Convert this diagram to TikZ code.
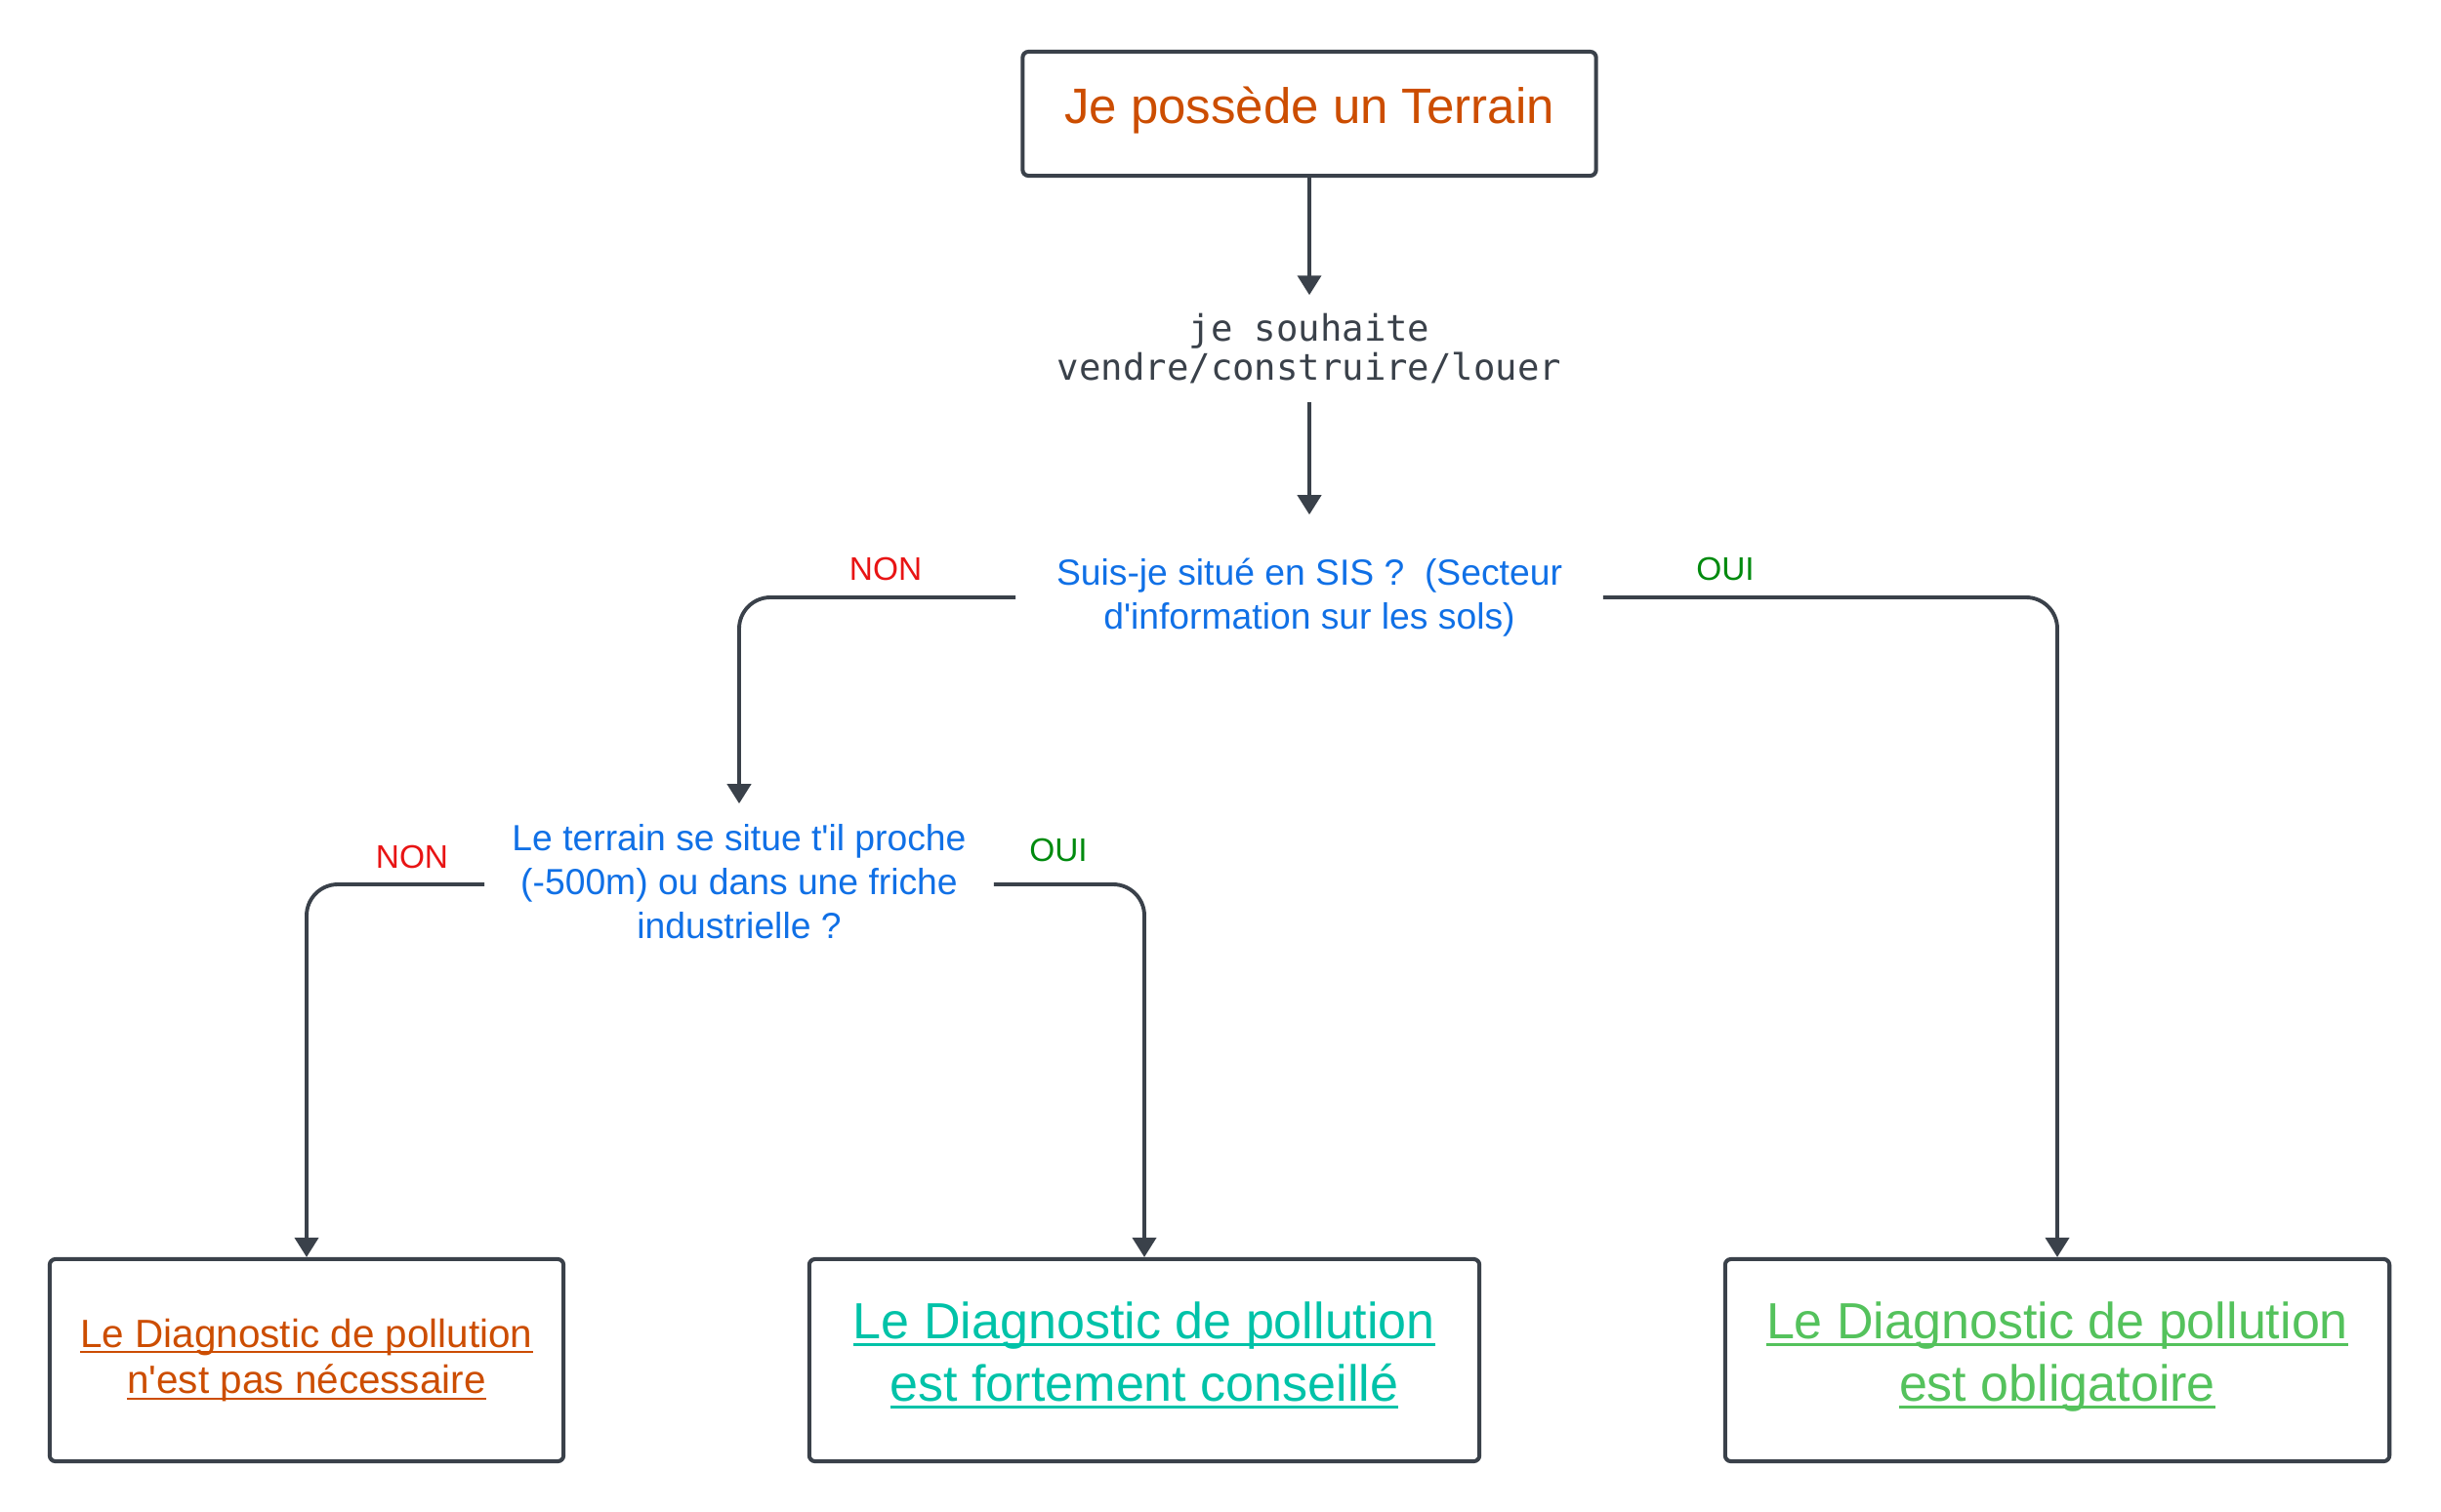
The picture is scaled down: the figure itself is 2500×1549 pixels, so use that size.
\documentclass[tikz,border=0pt]{standalone}
\usepackage{fontspec}
\setmainfont{Liberation Sans}
\newfontfamily\monofnt{DejaVu Sans Mono}
\newsavebox{\ulbox}
\newcommand{\myul}[1]{\sbox{\ulbox}{#1}\rlap{\vrule height -0.09em depth 0.155em width \wd\ulbox}\usebox{\ulbox}}
\newcommand{\dpt}[1]{\rule[-#1]{0pt}{0pt}}
\usetikzlibrary{arrows.meta}
\definecolor{lineC}{RGB}{58,65,74}
\definecolor{orangeC}{RGB}{204,77,0}
\definecolor{blueC}{RGB}{16,112,230}
\definecolor{redC}{RGB}{232,20,20}
\definecolor{okC}{RGB}{0,138,14}
\definecolor{tealC}{RGB}{0,194,168}
\definecolor{greenC}{RGB}{84,194,92}
\begin{document}
\begin{tikzpicture}[x=0.01cm,y=-0.01cm,
  box/.style={draw=lineC, line width=1.15pt, rounded corners=0.06cm, align=center, inner sep=0pt},
  qtext/.style={align=center, inner sep=0pt, text=blueC, font=\fontsize{10.6pt}{12.8pt}\selectfont},
  lbl/.style={inner sep=0pt, font=\fontsize{9.5pt}{11pt}\selectfont},
  conn/.style={draw=lineC, line width=1.1pt, rounded corners=0.32cm, -{Triangle[width=0.24cm,length=0.2cm]}}
]
\useasboundingbox (0,0) rectangle (2500,1549);

\node[box, minimum width=5.87cm, minimum height=1.27cm, text=orangeC,
  font=\fontsize{14.5pt}{17.4pt}\selectfont] (start) at (1341,116.5) {Je possède un Terrain\dpt{4.8pt}};

\node[align=center, inner sep=0pt, minimum height=1.08cm, text=lineC,
  font=\monofnt\fontsize{10.6pt}{11.4pt}\selectfont] (q0) at (1341,357) {je souhaite\\vendre/construire/louer};

\node[qtext, minimum width=6cm, minimum height=1.68cm] (q1) at (1341,612) {Suis-je situé en SIS ?\ \ (Secteur\\d\textquotesingle information sur les sols)};

\node[qtext, minimum width=5.2cm, minimum height=1.64cm] (q2) at (757,906) {Le terrain se situe t\textquotesingle il proche\\(-500m) ou dans une friche\\industrielle ?\dpt{1.8pt}};

\node[box, minimum width=5.26cm, minimum height=2.07cm, text=orangeC,
  font=\fontsize{11.5pt}{13.6pt}\selectfont] (b1) at (314,1393.5) {\myul{Le Diagnostic de pollution}\\\myul{n\textquotesingle est pas nécessaire}};
\node[box, minimum width=6.86cm, minimum height=2.07cm, text=tealC,
  font=\fontsize{14.8pt}{18.2pt}\selectfont] (b2) at (1172,1393.5) {\myul{Le Diagnostic de pollution}\\\myul{est fortement conseillé}\dpt{5.2pt}};
\node[box, minimum width=6.8cm, minimum height=2.07cm, text=greenC,
  font=\fontsize{14.8pt}{18.2pt}\selectfont] (b3) at (2107,1393.5) {\myul{Le Diagnostic de pollution}\\\myul{est obligatoire}\dpt{5.2pt}};

\node[lbl, text=redC] (non1) at (907,583) {NON};
\node[lbl, text=okC] (oui1) at (1767,583) {OUI};
\node[lbl, text=redC] (non2) at (422,878) {NON};
\node[lbl, text=okC] (oui2) at (1084,871) {OUI};

\draw[conn] (start) -- (q0);
\draw[conn] (q0) -- (q1);
\draw[conn] (q1.west) -| (q2.north);
\draw[conn] (q1.east) -| (b3.north);
\draw[conn] (q2.west) -| (b1.north);
\draw[conn] (q2.east) -| (b2.north);
\end{tikzpicture}
\end{document}
